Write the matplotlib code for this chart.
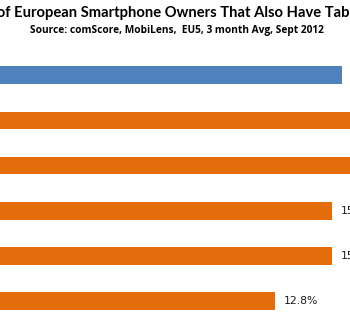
import matplotlib.pyplot as plt

# data (top to bottom); the reference is a crop, category names sit off the left edge
countries = ["EU5", "UK", "France", "Germany", "Italy", "Spain"]
values = [15.5, 20.9, 18.4, 15.1, 15.1, 12.8]
colors = ["#4F81BD", "#E46C0A", "#E46C0A", "#E46C0A", "#E46C0A", "#E46C0A"]

W, H = 350, 325
px_per_unit = 24.8
zero_px = -42
ax_w_px = 520

fig = plt.figure(figsize=(W / 100, H / 100), dpi=100)
# axes starts left of the canvas, like the cropped original
ax = fig.add_axes([zero_px / W, 0.0, ax_w_px / W, 1 - 54 / H])
ax.set_xlim(0, ax_w_px / px_per_unit)

ypos = list(range(len(countries)))
ax.barh(ypos, values, height=0.39, color=colors)
ax.set_ylim(len(countries) - 0.47, -0.47)
for y, v in zip(ypos, values):
    ax.text(v + 0.33, y, f"{v:.1f}%", va="center", ha="left",
            fontsize=7.8, family="DejaVu Sans", color="#1a1a1a")

ax.set_yticks(ypos)
ax.set_yticklabels(countries)
ax.set_xticks([])
for s in ax.spines.values():
    s.set_visible(False)

fig.text(177 / W, 1 - 13 / H, "% of European Smartphone Owners That Also Have Tablets",
         ha="center", va="center", fontsize=10.6, fontweight="bold", family="Lato")
fig.text(177 / W, 1 - 31 / H, "Source: comScore, MobiLens,  EU5, 3 month Avg, Sept 2012",
         ha="center", va="center", fontsize=7.3, fontweight="bold", family="Open Sans")

fig.savefig("out.png", dpi=100)
